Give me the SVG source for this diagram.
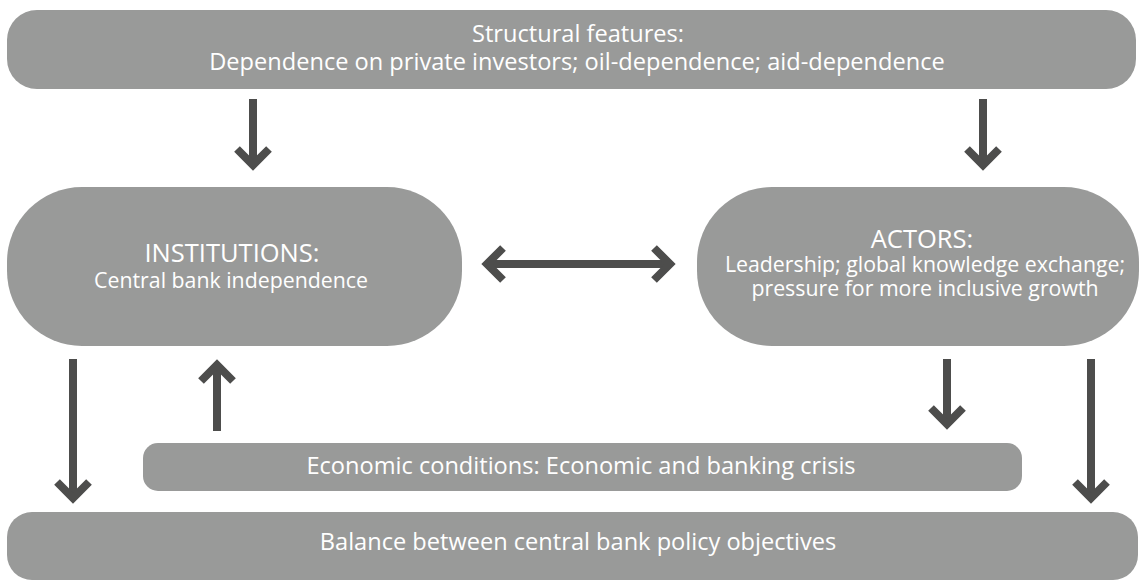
<svg xmlns="http://www.w3.org/2000/svg" width="1141" height="583" viewBox="0 0 1141 583">
<defs>
<style>
.box{fill:#999a99;}
.t{font-family:"Open Sans","Noto Sans","Liberation Sans",sans-serif;fill:#ffffff;text-anchor:middle;font-size:23.6px;}
.h{font-size:25.5px;}
.s{font-size:21.3px;}
.shaft{stroke:#4d4d4c;stroke-width:8;fill:none;}
.head{stroke:#4d4d4c;stroke-width:8;fill:none;stroke-linejoin:miter;stroke-miterlimit:10;}
</style>
</defs>
<rect width="1141" height="583" fill="#ffffff"/>
<g id="structural">
<rect class="box" x="7" y="10" width="1129" height="79" rx="30"/>
<text class="t" x="578" y="42">Structural features:</text>
<text class="t" x="577" y="70">Dependence on private investors; oil-dependence; aid-dependence</text>
</g>
<g id="institutions">
<rect class="box" x="7" y="187" width="455" height="159" rx="75"/>
<text class="t h" x="232" y="262">INSTITUTIONS:</text>
<text class="t s" x="231" y="288">Central bank independence</text>
</g>
<g id="actors">
<rect class="box" x="697" y="187" width="442" height="159" rx="75"/>
<text class="t h" x="922" y="248">ACTORS:</text>
<text class="t s" x="925" y="272">Leadership; global knowledge exchange;</text>
<text class="t s" x="925" y="296">pressure for more inclusive growth</text>
</g>
<g id="economic">
<rect class="box" x="143" y="443" width="879" height="48" rx="15"/>
<text class="t" x="581" y="474">Economic conditions: Economic and banking crisis</text>
</g>
<g id="balance">
<rect class="box" x="7" y="512" width="1131" height="68" rx="25"/>
<text class="t" x="578" y="550">Balance between central bank policy objectives</text>
</g>
<g id="connectors">
<line class="shaft" x1="253" y1="99" x2="253" y2="164"/>
<polyline class="head" points="237,149 253,165 269,149"/>
<line class="shaft" x1="983" y1="99" x2="983" y2="164"/>
<polyline class="head" points="967,149 983,165 999,149"/>
<line class="shaft" x1="488" y1="264" x2="669" y2="264"/>
<polyline class="head" points="503,248 487,264 503,280"/>
<polyline class="head" points="654,248 670,264 654,280"/>
<line class="shaft" x1="73" y1="359" x2="73" y2="497"/>
<polyline class="head" points="57,482 73,498 89,482"/>
<line class="shaft" x1="217" y1="366" x2="217" y2="431"/>
<polyline class="head" points="201,381 217,365 233,381"/>
<line class="shaft" x1="947" y1="359" x2="947" y2="423"/>
<polyline class="head" points="931,408 947,424 963,408"/>
<line class="shaft" x1="1091" y1="359" x2="1091" y2="497"/>
<polyline class="head" points="1075,482 1091,498 1107,482"/>
</g>
</svg>
